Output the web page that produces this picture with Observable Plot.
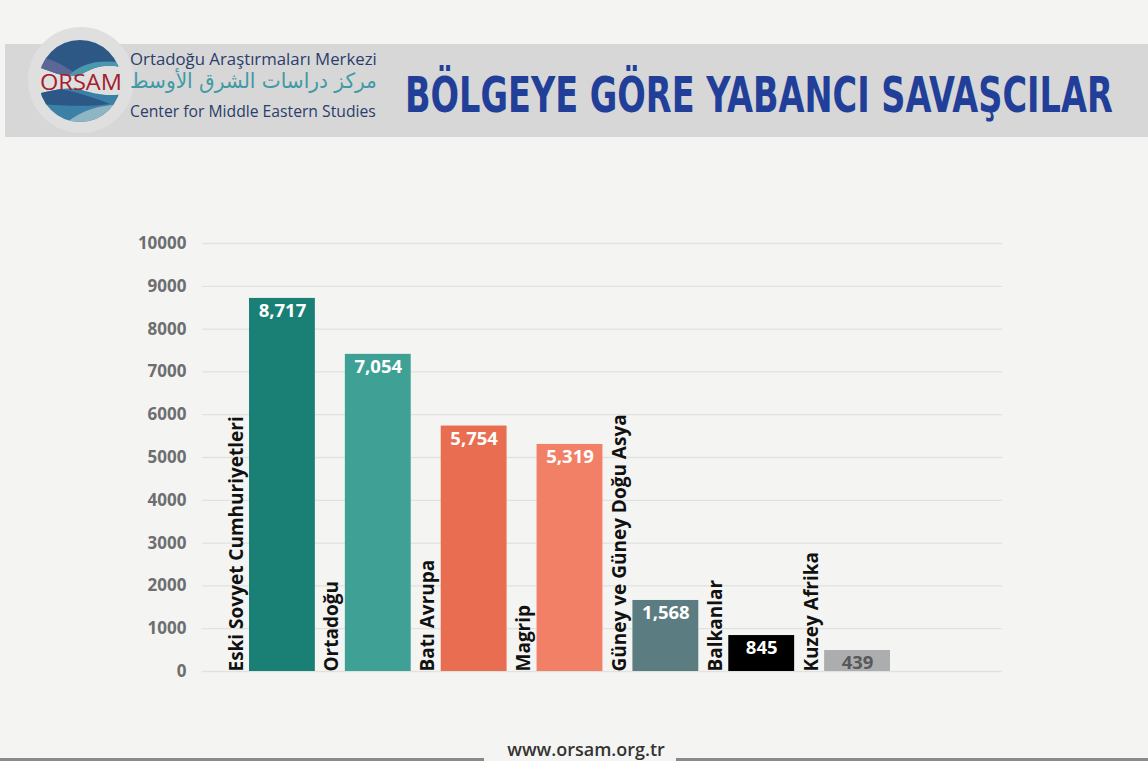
<!DOCTYPE html>
<html>
<head>
<meta charset="utf-8">
<script src="https://cdn.jsdelivr.net/npm/d3@7"></script>
<script src="https://cdn.jsdelivr.net/npm/@observablehq/plot@0.6"></script>
<style>
  html, body { margin: 0; padding: 0; background: #f4f5f2; }
  #page { position: relative; width: 1148px; height: 761px; overflow: hidden; background: #f4f5f2; font-family: "Open Sans", sans-serif; }
  #header { position: absolute; left: 0; top: 0; }
  #chart { position: absolute; left: 0; top: 200px; }
  #footer { position: absolute; left: 0; top: 725px; }
</style>
</head>
<body>
<div id="page">
  <svg id="header" width="1148" height="150" xmlns="http://www.w3.org/2000/svg">
    <defs>
      <clipPath id="logoClip"><circle cx="80" cy="81" r="41"></circle></clipPath>
      <clipPath id="topCap"><path d="M30,30 L130,30 L130,70 C110,62 95,66 82,74 C68,80 52,72 30,64 Z"></path></clipPath>
      <clipPath id="botCap"><path d="M30,96 C52,90 68,86 82,90 C96,94 110,98 130,92 L130,130 L30,130 Z"></path></clipPath>
    </defs>
    <rect x="5" y="44" width="1143" height="93" fill="#d7d7d7"></rect>
    <circle cx="81" cy="80" r="53" fill="#dfdfdf"></circle>
    <g clip-path="url(#logoClip)">
      <g clip-path="url(#topCap)">
        <rect x="30" y="30" width="100" height="60" fill="#2d5886"></rect>
        <path d="M30,56 C50,56 66,66 84,80 L30,80 Z" fill="#5b6797"></path>
        <path d="M64,80 C80,62 100,58 130,64 L130,80 Z" fill="#4a97ae"></path>
      </g>
      <g clip-path="url(#botCap)">
        <rect x="30" y="85" width="100" height="45" fill="#3b80a6"></rect>
        <path d="M30,88 C55,86 80,92 110,104 C80,108 55,104 30,104 Z" fill="#2c5786"></path>
        <path d="M58,130 C78,110 100,104 130,104 L130,130 Z" fill="#8fb5c5"></path>
      </g>
    </g>
    <text class="fit" data-x="40" data-w="82" y="90" font-family="Open Sans" font-size="22" fill="#a3202c">ORSAM</text>
    <text class="fit" data-x="130" data-w="247" y="65" font-family="Open Sans" font-size="16" fill="#2b3d6b">Ortadoğu Araştırmaları Merkezi</text>
    <text class="fit" data-x="130" data-w="247" y="88" font-family="DejaVu Sans" font-size="21" fill="#3f9aa6">مركز دراسات الشرق الأوسط</text>
    <text class="fit" data-x="130" data-w="246" y="117" font-family="Open Sans" font-size="16" fill="#2b3d6b">Center for Middle Eastern Studies</text>
    <text class="fit" data-x="405" data-w="708" y="112" font-family="Liberation Sans Narrow, DejaVu Sans Condensed, sans-serif" font-weight="bold" font-size="49" fill="#213f98">BÖLGEYE GÖRE YABANCI SAVAŞCILAR</text>
  </svg>
  <div id="chart"></div>
  <svg id="footer" width="1148" height="36" xmlns="http://www.w3.org/2000/svg">
    <rect x="0" y="33" width="484" height="3" fill="#8a8a8a"></rect>
    <rect x="676" y="33" width="472" height="3" fill="#8a8a8a"></rect>
    <text x="586" y="31" text-anchor="middle" font-family="Open Sans" font-weight="600" font-size="18" fill="#333">www.orsam.org.tr</text>
  </svg>
</div>
<script>
// Header texts: scale horizontally to fit the widths seen in the reference
document.querySelectorAll("#header text.fit").forEach(t => {
  const x = +t.dataset.x, w = +t.dataset.w;
  t.setAttribute("x", 0);
  const bb = t.getBBox();
  const s = w / bb.width;
  t.setAttribute("transform", `translate(${x - bb.x * s},0) scale(${s},1)`);
});

const categories = ["Eski Sovyet Cumhuriyetleri", "Ortadoğu", "Batı Avrupa", "Magrip", "Güney ve Güney Doğu Asya", "Balkanlar", "Kuzey Afrika"];
// bar heights as drawn in the picture
const values = [8717, 7410, 5735, 5305, 1660, 840, 490];
// value labels as printed on the bars
const valueLabels = ["8,717", "7,054", "5,754", "5,319", "1,568", "845", "439"];
const barColors = ["#1a7f74", "#3fa195", "#e96d50", "#f28067", "#5b7c80", "#000000", "#abadae"];
const valueLabelColors = ["#ffffff", "#ffffff", "#ffffff", "#ffffff", "#ffffff", "#ffffff", "#58595b"];
const yTicks = [0, 1000, 2000, 3000, 4000, 5000, 6000, 7000, 8000, 9000, 10000];

const data = categories.map((c, i) => ({
  category: c, value: values[i], label: valueLabels[i], color: barColors[i], labelColor: valueLabelColors[i]
}));

const chart = Plot.plot({
  width: 1148,
  height: 500,
  marginLeft: 202,
  marginRight: 146,
  marginTop: 43,
  marginBottom: 29,
  style: { background: "transparent", fontFamily: "Open Sans, sans-serif", overflow: "visible" },
  x: { type: "band", domain: categories, range: [219, 890], padding: 0, round: false, axis: null },
  y: { domain: [0, 10000], axis: null },
  color: { type: "identity" },
  marks: [
    Plot.ruleY(yTicks, { stroke: "#e1e1df", strokeWidth: 1.3 }),
    Plot.axisY(yTicks, { label: null, tickSize: 0, tickPadding: 16, tickFormat: d3.format("d"), fontSize: 17, fontWeight: "bold", fill: "#6d6e70" }),
    Plot.barY(data, { x: "category", y: "value", fill: "color", insetLeft: 30, insetRight: 0 }),
    Plot.text(data, { x: "category", y: 0, text: "category", rotate: -90, textAnchor: "start", lineAnchor: "middle", dx: -31, fontSize: 19, fontWeight: "bold", fill: "#111111" }),
    Plot.text(data, { x: "category", y: "value", text: "label", dx: 15, dy: 13, fill: "labelColor", fontSize: 18.5, fontWeight: "bold" })
  ]
});
document.getElementById("chart").appendChild(chart);
</script>
</body>
</html>
